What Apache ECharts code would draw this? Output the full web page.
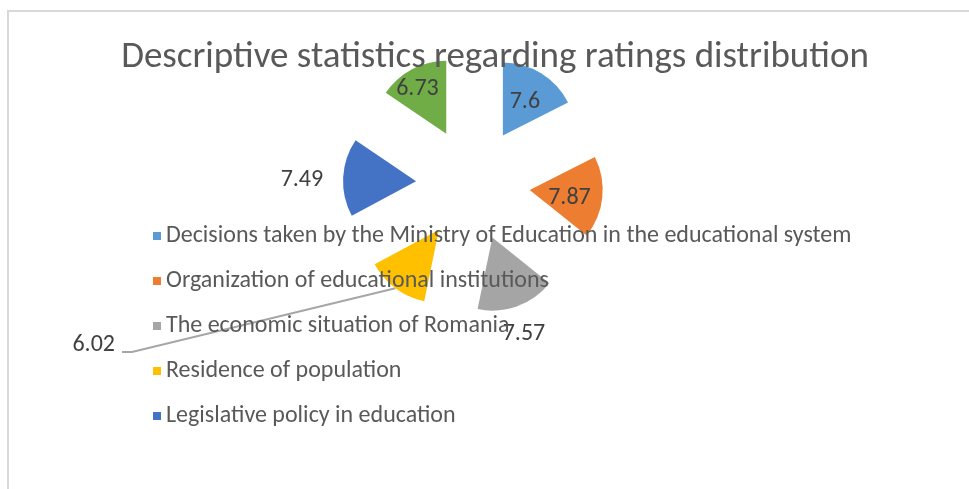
<!DOCTYPE html>
<html>
<head>
<meta charset="utf-8">
<script src="https://cdn.jsdelivr.net/npm/echarts@6/dist/echarts.min.js"></script>
<style>
  html, body { margin: 0; padding: 0; background: #ffffff; }
  #frame { position: absolute; left: 7px; top: 10px; width: 968px; height: 485px;
           border-left: 2px solid #d9d9d9; border-top: 2px solid #d9d9d9; box-sizing: border-box; }
  #chart { position: absolute; left: 0; top: 0; width: 969px; height: 489px; }
</style>
</head>
<body>
<div id="frame"></div>
<div id="chart"></div>
<script>
// Factors and their mean ratings
const categories = [
  'Decisions taken by the Ministry of Education in the educational system',
  'Organization of educational institutions',
  'The economic situation of Romania',
  'Residence of population',
  'Legislative policy in education',
  'Other factors'
];
const ratings = [7.6, 7.87, 7.57, 6.02, 7.49, 6.73];
const legendNames = categories.slice(0, 5);
const colors = ['#5B9BD5', '#ED7D31', '#A5A5A5', '#FFC000', '#4472C4', '#70AD47'];

const FONT = "Carlito, Calibri, 'Open Sans', sans-serif";
const CX = 473, CY = 184, R = 73, OFFSET = 57;

// Label placement: distance from the pie centre along the slice bisector, plus a small nudge
const labelRadius = [99, 97, 156, null, 150, 112];
const labelNudge = [[0, 2], [0, 4], [-2, 3], [0, 0], [0, 4], [-3, 4]];
// The narrowest slice gets its label pulled out to the left on a leader line
const farLabelAt = [115, 345];
const leaderElbow = [[132, 352], [122, 352]];

const total = ratings.reduce((a, b) => a + b, 0);
function midAngle(i) {
  let acc = 0;
  for (let k = 0; k < i; k++) acc += ratings[k];
  return (acc + ratings[i] / 2) / total * 2 * Math.PI; // clockwise from 12 o'clock
}
function pointAt(i, dist) {
  const a = midAngle(i);
  return [CX + dist * Math.sin(a), CY - dist * Math.cos(a)];
}

const chart = echarts.init(document.getElementById('chart'), null, { renderer: 'canvas' });

const baseData = categories.map((name, i) => ({ name: name, value: ratings[i] }));
const farIndex = labelRadius.indexOf(null);
const leaderPoints = [pointAt(farIndex, OFFSET + R)].concat(leaderElbow);

chart.setOption({
  animation: false,
  color: colors,
  title: {
    text: 'Descriptive statistics regarding ratings distribution',
    left: 490, top: 34, textAlign: 'center',
    textStyle: { fontFamily: FONT, fontWeight: 'normal', fontSize: 37, color: '#595959' }
  },
  legend: {
    data: legendNames,
    orient: 'vertical',
    left: 148, top: 219,
    itemWidth: 8, itemHeight: 8, itemGap: 21,
    icon: 'rect',
    z: 10,
    selectedMode: false,
    textStyle: { fontFamily: FONT, fontSize: 24, color: '#595959', lineHeight: 24, padding: 0 }
  },
  graphic: [{
    type: 'polyline',
    z: 1,
    silent: true,
    shape: { points: leaderPoints },
    style: { stroke: '#A6A6A6', lineWidth: 2, fill: null }
  }],
  series: [
    // exploded slices
    {
      type: 'pie',
      center: [CX, CY],
      radius: [0, R],
      startAngle: 90,
      clockwise: true,
      selectedMode: 'multiple',
      selectedOffset: OFFSET,
      silent: true,
      z: 2,
      data: baseData.map(d => Object.assign({ selected: true }, d)),
      label: { show: false },
      labelLine: { show: false }
    },
    // value labels for the same slices
    {
      type: 'pie',
      center: [CX, CY],
      radius: [0, R],
      startAngle: 90,
      clockwise: true,
      selectedMode: false,
      silent: true,
      avoidLabelOverlap: false,
      z: 3,
      itemStyle: { color: 'rgba(0,0,0,0)', borderWidth: 0 },
      data: baseData,
      label: {
        show: true,
        position: 'inside',
        formatter: p => String(p.value),
        fontFamily: FONT, fontSize: 24, color: '#404040'
      },
      labelLine: { show: false },
      labelLayout: function (params) {
        const i = params.dataIndex;
        if (labelRadius[i] === null) {
          return { x: farLabelAt[0], y: farLabelAt[1], align: 'right', verticalAlign: 'middle' };
        }
        const p = pointAt(i, labelRadius[i]);
        const align = Math.sin(midAngle(i)) < -0.9 ? 'right' : 'center';
        return {
          x: p[0] + labelNudge[i][0], y: p[1] + labelNudge[i][1],
          align: align, verticalAlign: 'middle'
        };
      }
    }
  ]
});
</script>
</body>
</html>
